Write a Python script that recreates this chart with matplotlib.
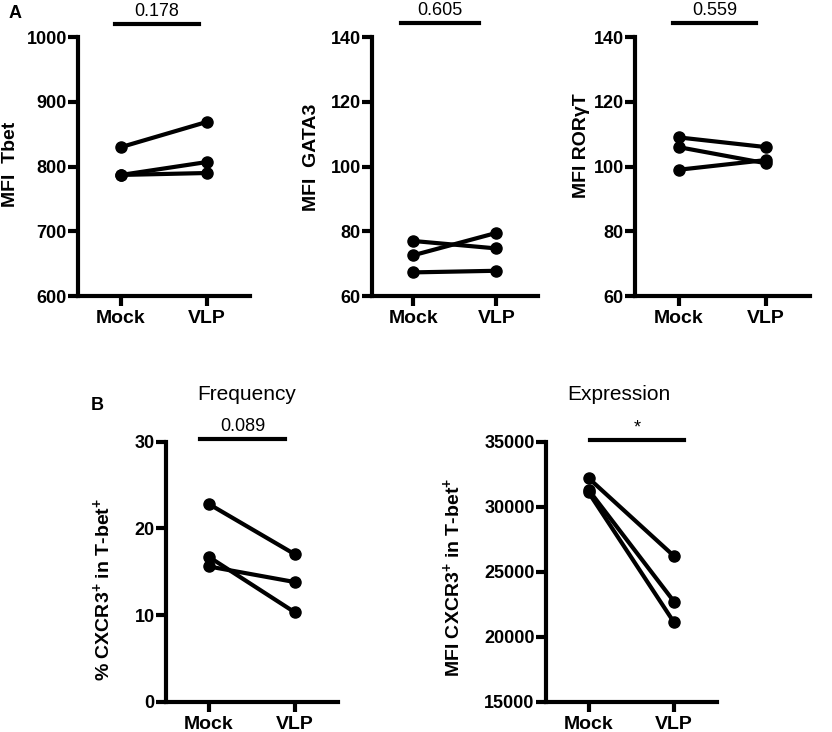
import matplotlib
matplotlib.use("Agg")
import matplotlib.pyplot as plt

plt.rcParams['font.family'] = ['Liberation Sans', 'DejaVu Sans']
plt.rcParams['mathtext.fontset'] = 'custom'
plt.rcParams['mathtext.rm'] = 'Liberation Sans:bold'
plt.rcParams['mathtext.bf'] = 'Liberation Sans:bold'

# data
groups = ['Mock', 'VLP']

tbet_mock = [830, 787, 787]
tbet_vlp = [869, 807, 790]

gata3_mock = [77, 72.6, 67.3]
gata3_vlp = [74.7, 79.5, 67.8]

rorgt_mock = [109, 106, 99]
rorgt_vlp = [106, 101, 102]

freq_mock = [22.8, 16.7, 15.6]
freq_vlp = [17.0, 10.3, 13.8]

expr_mock = [32200, 31300, 31100]
expr_vlp = [26200, 22700, 21100]

p_labels = ['0.178', '0.605', '0.559', '0.089', '*']

panels = [
    # (mock, vlp, ylim, yticks, ylabel, p, rect, bar x, bar y, label pos)
    (tbet_mock, tbet_vlp, (600, 1000), [600, 700, 800, 900, 1000], 'MFI  Tbet',
     p_labels[0], [0.0938, 0.5956, 0.2067, 0.3538], (-0.07, 0.91), 1.05, (-0.39, 0.51)),
    (gata3_mock, gata3_vlp, (60, 140), [60, 80, 100, 120, 140], 'MFI  GATA3',
     p_labels[1], [0.447, 0.5956, 0.1995, 0.3538], (-0.15, 0.79), 1.053, (-0.363, 0.537)),
    (rorgt_mock, rorgt_vlp, (60, 140), [60, 80, 100, 120, 140], 'MFI RORγT',
     p_labels[2], [0.763, 0.5956, 0.2103, 0.3538], (-0.06, 0.88), 1.053, (-0.305, 0.58)),
    (freq_mock, freq_vlp, (0, 30), [0, 10, 20, 30], r'% CXCR3$^{+}$ in T-bet$^{+}$',
     p_labels[3], [0.1995, 0.0414, 0.2067, 0.3552], (-0.10, 0.88), 1.01, (-0.366, 0.433)),
    (expr_mock, expr_vlp, (15000, 35000), [15000, 20000, 25000, 30000, 35000],
     r'MFI CXCR3$^{+}$ in T-bet$^{+}$',
     p_labels[4], [0.656, 0.0414, 0.2055, 0.3552], (0.02, 1.12), 1.005, (-0.544, 0.48)),
]

fig = plt.figure(figsize=(8.32, 7.32), dpi=100)
axes = []
for mock, vlp, ylim, yticks, ylabel, p, rect, barx, bary, labpos in panels:
    ax = fig.add_axes(rect)
    axes.append(ax)
    for m, v in zip(mock, vlp):
        ax.plot([0, 1], [m, v], color='black', lw=3, marker='o', markersize=8,
                solid_capstyle='round', clip_on=False, zorder=3)
    ax.set_xlim(-0.5, 1.5)
    ax.set_ylim(*ylim)
    ax.set_yticks(yticks)
    ax.set_xticks([0, 1])
    ax.set_xticklabels(groups, fontsize=14, fontweight='bold')
    for lab in ax.get_yticklabels():
        lab.set_fontsize(13)
        lab.set_fontweight('bold')
    ax.spines['top'].set_visible(False)
    ax.spines['right'].set_visible(False)
    ax.spines['left'].set_linewidth(3)
    ax.spines['bottom'].set_linewidth(3)
    ax.tick_params(axis='both', width=3, length=7, direction='out', pad=1)
    ax.tick_params(axis='x', pad=3)
    ax.text(labpos[0], labpos[1], ylabel, rotation=90, transform=ax.transAxes,
            ha='center', va='center', fontsize=14, fontweight='bold')
    # significance bar
    trans = ax.get_xaxis_transform()
    ax.plot(barx, [bary, bary], color='black', lw=3, transform=trans, clip_on=False)
    ax.annotate(p, xy=(sum(barx) / 2, bary), xycoords=trans, xytext=(0, 3),
                textcoords='offset points', ha='center', va='bottom', fontsize=13)

axes[3].text(0.47, 1.18, 'Frequency', transform=axes[3].transAxes,
             ha='center', va='center', fontsize=15)
axes[4].text(0.43, 1.18, 'Expression', transform=axes[4].transAxes,
             ha='center', va='center', fontsize=15)

fig.text(15 / 832, 1 - 13 / 732, 'A', ha='center', va='center', fontsize=13, fontweight='bold')
fig.text(97 / 832, 1 - 405 / 732, 'B', ha='center', va='center', fontsize=13, fontweight='bold')

fig.savefig('out.png', dpi=100)
